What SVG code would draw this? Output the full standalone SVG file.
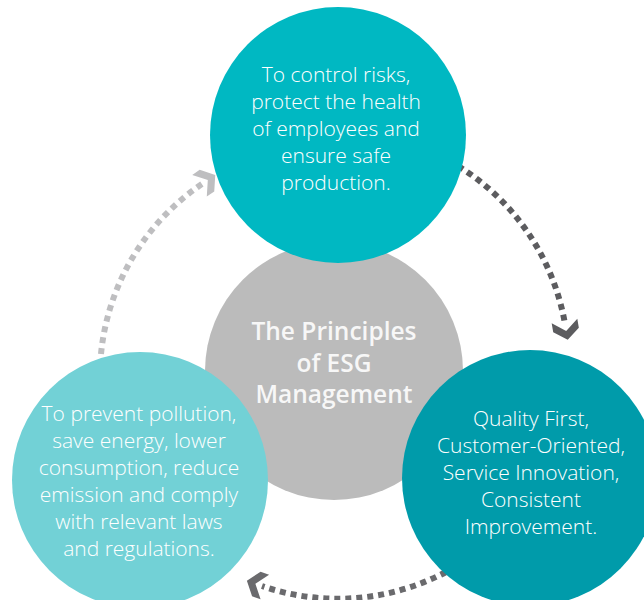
<svg xmlns="http://www.w3.org/2000/svg" width="644" height="600" viewBox="0 0 644 600">
<defs>
<style>
.lbl{font-family:"Open Sans","Liberation Sans",sans-serif;font-weight:300;font-size:21px;fill:#ffffff;text-anchor:middle}
.ctr{font-family:"Open Sans","Liberation Sans",sans-serif;font-weight:600;font-size:24.5px;fill:#f7f7f7;text-anchor:middle}
.dot{fill:none;stroke-width:6;stroke-dasharray:6 5}
</style>
<marker id="chevDark" markerUnits="userSpaceOnUse" orient="auto" markerWidth="40" markerHeight="40" viewBox="-20 -20 40 40" refX="-7" refY="0">
<polygon points="-1,-13 9,0 -1,13 -10,13 0,0 -10,-13" fill="#5c5c5f"/>
</marker>
<marker id="chevMid" markerUnits="userSpaceOnUse" orient="auto" markerWidth="40" markerHeight="40" viewBox="-20 -20 40 40" refX="-7" refY="0">
<polygon points="-1,-13 9,0 -1,13 -10,13 0,0 -10,-13" fill="#6a6a6d"/>
</marker>
<marker id="chevLight" markerUnits="userSpaceOnUse" orient="auto" markerWidth="40" markerHeight="40" viewBox="-20 -20 40 40" refX="-7" refY="0">
<polygon points="-1,-13 9,0 -1,13 -10,13 0,0 -10,-13" fill="#bebec0"/>
</marker>
</defs>
<g id="connectors">
<path class="dot" stroke="#5c5c5f" d="M 458 166 A 232 232 0 0 1 565 324" marker-end="url(#chevDark)"/>
<path class="dot" stroke="#6a6a6d" d="M 446 572 A 232 232 0 0 1 262 586" marker-end="url(#chevMid)"/>
<path class="dot" stroke="#bebec0" d="M 101 354 A 232 232 0 0 1 202 184" marker-end="url(#chevLight)"/>
</g>
<g id="center">
<circle cx="334" cy="371" r="129" fill="#bbbbbb"/>
<text class="ctr" x="334" y="340">The Principles</text>
<text class="ctr" x="334" y="372">of ESG</text>
<text class="ctr" x="334" y="403">Management</text>
</g>
<g id="safety">
<circle cx="338" cy="135" r="128" fill="#00b8c2"/>
<text class="lbl" x="336" y="82">To control risks,</text>
<text class="lbl" x="336" y="109">protect the health</text>
<text class="lbl" x="336" y="136">of employees and</text>
<text class="lbl" x="336" y="163">ensure safe</text>
<text class="lbl" x="336" y="190">production.</text>
</g>
<g id="quality">
<circle cx="530" cy="478" r="128" fill="#009baa"/>
<text class="lbl" x="531" y="426">Quality First,</text>
<text class="lbl" x="531" y="453">Customer-Oriented,</text>
<text class="lbl" x="531" y="480">Service Innovation,</text>
<text class="lbl" x="531" y="507">Consistent</text>
<text class="lbl" x="531" y="534">Improvement.</text>
</g>
<g id="environment">
<circle cx="140" cy="480" r="128" fill="#72d1d6"/>
<text class="lbl" x="139" y="421">To prevent pollution,</text>
<text class="lbl" x="139" y="448">save energy, lower</text>
<text class="lbl" x="139" y="475">consumption, reduce</text>
<text class="lbl" x="139" y="502">emission and comply</text>
<text class="lbl" x="139" y="529">with relevant laws</text>
<text class="lbl" x="139" y="556">and regulations.</text>
</g>
</svg>
